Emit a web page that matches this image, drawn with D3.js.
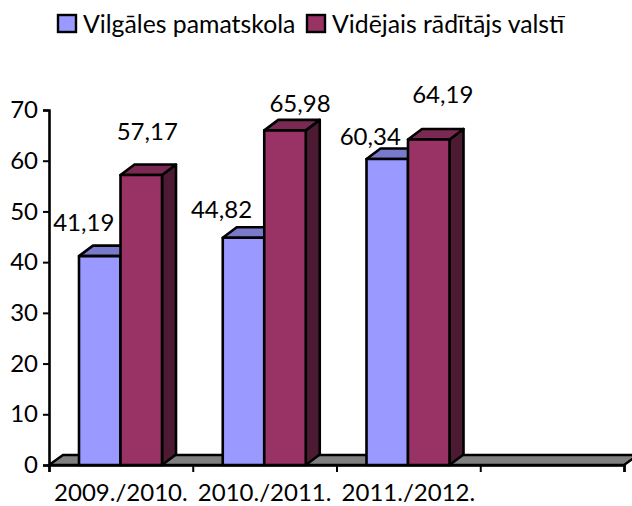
<!DOCTYPE html>
<html>
<head>
<meta charset="utf-8">
<script src="https://cdn.jsdelivr.net/npm/d3@7"></script>
<style>
  html, body { margin: 0; padding: 0; background: #fff; }
  svg { display: block; }
  text { font-family: Lato, "Open Sans", sans-serif; fill: #000; }
</style>
</head>
<body>
<svg id="chart" width="632" height="506"></svg>
<script>
// Chart data
const categories = ["2009./2010.", "2010./2011.", "2011./2012.", ""];
const seriesNames = ["Vilgāles pamatskola", "Vidējais rādītājs valstī"];
const vilgale = [41.19, 44.82, 60.34];
const national = [57.17, 65.98, 64.19];
const yTicks = [0, 10, 20, 30, 40, 50, 60, 70];

// Colours per series: front, top, side
const colors = [
  { front: "#9999ff", top: "#7a7acc", side: "#4d4d80" },
  { front: "#993366", top: "#7a2952", side: "#4d1a33" }
];

// Hand placed data labels in the original, offset from the middle of the bar front
const labelOffsets = [
  [[-16, -25], [6, -35]],
  [[-22, -20], [15, -18]],
  [[-17, -14], [14, -36]]
];

const fontSize = 24;
const legendFontSize = 24.8;
const depth = { x: 14, y: 10.5 };
const floorDepth = { x: 14, y: 10 };

const svg = d3.select("#chart");

const plotLeft = 49, plotRight = 624, plotTop = 110, plotBottom = 465;
const y = d3.scaleLinear().domain([0, 70]).range([plotBottom, plotTop]);
const x = d3.scaleLinear().domain([0, categories.length]).range([plotLeft, plotRight]);
const inner = d3.scaleBand().domain([0, 1]).range([30, 113]);

const fmt = v => v.toFixed(2).replace(".", ",");

// Floor of the 3D chart
svg.append("path")
  .attr("d", `M${plotLeft},${plotBottom} L${plotLeft + floorDepth.x},${plotBottom - floorDepth.y} L${plotRight + floorDepth.x},${plotBottom - floorDepth.y} L${plotRight},${plotBottom} Z`)
  .attr("fill", "#808080")
  .attr("stroke", "#000")
  .attr("stroke-width", 2.4);

// Axes
const yAxis = d3.axisLeft(y).tickValues(yTicks).tickSize(6).tickPadding(5).tickFormat(d3.format("d"));
const xAxis = d3.axisBottom(x).ticks(categories.length).tickSize(7).tickFormat("");

const styleAxis = g => {
  g.selectAll(".domain").attr("stroke", "#000").attr("stroke-width", 2.6);
  g.selectAll("line").attr("stroke", "#000").attr("stroke-width", 2);
  g.selectAll("text").style("font-size", fontSize + "px").attr("fill", "#000");
};

svg.append("g").attr("transform", `translate(${plotLeft},0)`).call(yAxis).call(styleAxis);

// Bars
const rows = vilgale.map((v, i) => [v, national[i]]);

function barShape(g, value, i, s) {
  const x0 = x(i) + inner(s);
  const x1 = x0 + inner.bandwidth();
  const yTop = y(value);
  const c = colors[s];
  const stroke = sel => sel.attr("stroke", "#000").attr("stroke-width", 2.6).attr("stroke-linejoin", "round");

  g.append("path")
    .attr("d", `M${x1},${yTop} L${x1 + depth.x},${yTop - depth.y} L${x1 + depth.x},${plotBottom - depth.y} L${x1},${plotBottom} Z`)
    .attr("fill", c.side).call(stroke);
  g.append("path")
    .attr("d", `M${x0},${yTop} L${x0 + depth.x},${yTop - depth.y} L${x1 + depth.x},${yTop - depth.y} L${x1},${yTop} Z`)
    .attr("fill", c.top).call(stroke);
  g.append("rect")
    .attr("x", x0).attr("y", yTop)
    .attr("width", x1 - x0).attr("height", plotBottom - yTop)
    .attr("fill", c.front).call(stroke);
}

// draw groups left to right, series in order, so the second bar covers the first
rows.forEach((row, i) => {
  const group = svg.append("g").attr("class", "group");
  row.forEach((v, s) => barShape(group, v, i, s));
});

// X axis goes on top of the bar bases
svg.append("g").attr("transform", `translate(0,${plotBottom})`).call(xAxis).call(styleAxis);

// Category labels
svg.selectAll(".cat")
  .data(categories)
  .enter().append("text")
  .attr("class", "cat")
  .attr("x", (d, i) => (x(i) + x(i + 1)) / 2)
  .attr("y", 501)
  .attr("text-anchor", "middle")
  .style("font-size", fontSize + "px")
  .text(d => d);

// Data labels
rows.forEach((row, i) => {
  row.forEach((v, s) => {
    const cx = x(i) + inner(s) + inner.bandwidth() / 2;
    svg.append("text")
      .attr("x", cx + labelOffsets[i][s][0])
      .attr("y", y(v) + labelOffsets[i][s][1])
      .attr("text-anchor", "middle")
      .style("font-size", fontSize + "px")
      .text(fmt(v));
  });
});

// Legend
const legendY = 28;
const legendX = [83, 332];
seriesNames.forEach((name, s) => {
  svg.append("rect")
    .attr("x", legendX[s] - 25).attr("y", legendY - 13)
    .attr("width", 18).attr("height", 17)
    .attr("fill", colors[s].front)
    .attr("stroke", "#000").attr("stroke-width", 2.4);
  svg.append("text")
    .attr("x", legendX[s]).attr("y", legendY + 5)
    .style("font-size", legendFontSize + "px")
    .text(name);
});
</script>
</body>
</html>
